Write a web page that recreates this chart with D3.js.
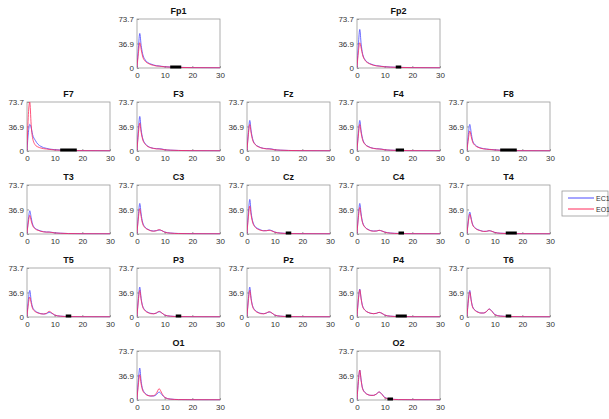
<!DOCTYPE html>
<html>
<head>
<meta charset="utf-8">
<script src="https://cdn.jsdelivr.net/npm/d3@7"></script>
<style>
  body { margin: 0; background: #fff; }
  svg { font-family: "Liberation Sans", Arial, sans-serif; }
  .tick text { fill: #333; }
</style>
</head>
<body>
<svg id="chart"></svg>
<script>
// frequency grid (Hz)
var freqs = [0, 0.5, 1, 1.5, 2, 3, 4, 5, 6, 7, 8, 9, 10, 12, 15, 20, 30];

var channels = ['Fp1','Fp2','F7','F3','Fz','F4','F8','T3','C3','Cz','C4','T4','T5','P3','Pz','P4','T6','O1','O2'];
var gridRow  = [0,0,1,1,1,1,1,2,2,2,2,2,3,3,3,3,3,4,4];
var gridCol  = [1,3,0,1,2,3,4,0,1,2,3,4,0,1,2,3,4,1,3];

// EC1 (eyes closed) spectra
var ec1 = [
  [1,30,52,34,22,12,8,6,4.5,3.5,3,2.5,2,1.5,1,0.6,0.3],
  [1,35,58,36,22,12,8,6,4.5,3.5,3,2.5,2,1.5,1,0.6,0.3],
  [1,28,40,35,25,16,10,7,5,4,3,2.5,2,1.5,1,0.6,0.3],
  [1,32,52,32,20,11,7,5,4,3.5,3.5,3,2,1.3,0.8,0.5,0.3],
  [1,28,46,30,19,10,7,5,4,3.5,3.5,3,2,1.3,0.8,0.5,0.3],
  [1,28,46,30,19,10,7,5,4,3.5,3.2,2.8,2,1.3,0.8,0.5,0.3],
  [1,25,40,28,16,9,6,4.5,3.5,3,2.5,2.2,1.8,1.2,0.8,0.5,0.3],
  [1,22,35,25,15,8.5,6,4.5,3.5,3,3,2.5,1.8,1.2,0.7,0.4,0.3],
  [1,28,46,30,18,10,7,5,4.5,5,6,5,3,1.5,0.8,0.5,0.3],
  [1,32,52,32,20,11,8,6,5,5,6,5,3,1.5,0.8,0.5,0.3],
  [1,28,46,30,18,10,7,5,4.5,4.5,5.5,4.5,3,1.5,0.8,0.5,0.3],
  [1,21,33,24,15,9,6.5,5,4,4,5,4,2.5,1.2,0.7,0.4,0.3],
  [1,26,40,25,15,9,6.5,5,4.5,5,7,5.5,3,1.3,0.7,0.4,0.3],
  [1,28,45,28,17,10,7,5.5,5,6,8,6,3,1.3,0.7,0.4,0.3],
  [1,28,45,28,17,10,7,5.5,5,6,7.5,6,3,1.3,0.7,0.4,0.3],
  [1,27,42,28,17,10,7,5.5,5,5.5,7,5.5,3,1.3,0.7,0.4,0.3],
  [1,26,40,26,16,10,7.5,6,6,8,12,9,4,1.5,0.8,0.4,0.3],
  [1,30,48,28,17,10,7,6,6,8,12,8,4,1.5,0.7,0.4,0.3],
  [1,28,45,30,18,11,8,7,7,9,12,9,4,1.5,0.7,0.4,0.3]
];

// EO1 (eyes open) spectra
var eo1 = [
  [1,22,38,28,18,10,7,5,4,3,2.8,2.2,1.8,1.3,0.9,0.5,0.3],
  [1,24,38,30,20,11,7.5,5.5,4,3.2,2.8,2.2,1.8,1.3,0.9,0.5,0.3],
  [1,55,73.7,40,20,9,6,4.5,3.5,3,2.5,2,1.6,1.2,0.8,0.5,0.3],
  [1,26,42,28,18,10,6.5,4.8,3.8,3.2,3,2.5,1.8,1.2,0.8,0.5,0.3],
  [1,25,40,27,17,9.5,6.5,4.8,3.8,3.2,3,2.5,1.8,1.2,0.8,0.5,0.3],
  [1,24,40,27,17,9.5,6.5,4.8,3.8,3.2,3,2.5,1.8,1.2,0.8,0.5,0.3],
  [1,18,30,22,14,8,5.5,4,3.2,2.7,2.3,2,1.6,1.1,0.7,0.4,0.3],
  [1,18,28,20,13,7.5,5.5,4,3.2,2.8,2.8,2.3,1.6,1.1,0.7,0.4,0.3],
  [1,24,38,26,16,9,6.5,4.8,4.2,5,6.5,5,2.8,1.3,0.7,0.4,0.3],
  [1,26,42,28,18,10,7,5.5,4.8,5,5.5,4.5,2.8,1.3,0.7,0.4,0.3],
  [1,25,40,27,17,9.5,6.5,4.8,4.2,4.5,5.5,4.5,2.8,1.3,0.7,0.4,0.3],
  [1,19,30,22,14,8.5,6,4.8,3.8,4,5,4,2.3,1.1,0.6,0.4,0.3],
  [1,20,30,21,13,8,6,4.8,4.5,5.5,8.5,6,3,1.2,0.6,0.4,0.3],
  [1,25,40,26,16,9,6.5,5,4.8,6,8.5,6,3,1.2,0.6,0.4,0.3],
  [1,25,40,26,16,9,6.5,5,4.8,6,8,6,3,1.2,0.6,0.4,0.3],
  [1,26,41,27,16,9.5,7,5.5,5,5.5,7,5.5,3,1.2,0.6,0.4,0.3],
  [1,25,38,25,15,9.5,7,6,6,8,12,8.5,3.5,1.3,0.7,0.4,0.3],
  [1,24,38,24,15,9,6.5,6,6.5,10,17,10,4,1.3,0.6,0.4,0.3],
  [1,28,45,29,17,10.5,8,7,7,9,12,8.5,3.5,1.3,0.6,0.4,0.3]
];

// significant frequency ranges (black bar on x axis), null = none
var sigBands = [
  [12,16],[14,16],[12,18],null,null,[14,17],[12,18],
  null,null,[14,16],[15,17],[14,18],
  [14,16],[14,16],[14,16],[14,18],[14,16],
  null,[11,13]
];

var yTicks = [0, 36.9, 73.7];
var xTicks = [0, 10, 20, 30];
var seriesNames = ['EC1', 'EO1'];
var seriesColors = ['#4a4aff', '#ff2a5a'];

var width = 609, height = 419;
var colX = 27, colStep = 110, rowY = 19, rowStep = 83;
var pw = 83, ph = 49;

var svg = d3.select('#chart').attr('width', width).attr('height', height);

var x = d3.scaleLinear().domain([0, 30]).range([0, pw]);
var y = d3.scaleLinear().domain([0, 73.7]).range([ph, 0]);

var line = d3.line()
  .x(function(d){ return x(d[0]); })
  .y(function(d){ return y(d[1]); })
  .curve(d3.curveMonotoneX);

channels.forEach(function(ch, i){
  var g = svg.append('g')
    .attr('transform', 'translate(' + (colX + gridCol[i] * colStep) + ',' + (rowY + gridRow[i] * rowStep) + ')');

  g.append('clipPath').attr('id', 'clip' + i)
    .append('rect').attr('width', pw).attr('height', ph + 1).attr('y', -0.5);

  // box
  g.append('rect')
    .attr('width', pw).attr('height', ph)
    .attr('fill', '#fff').attr('stroke', '#9a9a9a').attr('stroke-width', 0.8);

  var xa = g.append('g').attr('class', 'xaxis').attr('transform', 'translate(0,' + ph + ')')
    .call(d3.axisBottom(x).tickValues(xTicks).tickFormat(d3.format('d')).tickSizeInner(-2).tickSizeOuter(0).tickPadding(4));
  var ya = g.append('g').attr('class', 'yaxis')
    .call(d3.axisLeft(y).tickValues(yTicks).tickFormat(function(d){ return d === 0 ? '0' : d3.format('.1f')(d); }).tickSizeInner(-2).tickSizeOuter(0).tickPadding(3));
  [xa, ya].forEach(function(a){
    a.select('.domain').remove();
    a.selectAll('line').attr('stroke', '#9a9a9a');
    a.selectAll('text').attr('font-size', 8).attr('fill', '#333');
  });

  var plot = g.append('g').attr('clip-path', 'url(#clip' + i + ')');
  [ec1[i], eo1[i]].forEach(function(vals, k){
    var pts = freqs.map(function(f, j){ return [f, vals[j]]; });
    plot.append('path')
      .datum(pts)
      .attr('d', line)
      .attr('fill', 'none')
      .attr('stroke', seriesColors[k])
      .attr('stroke-opacity', 0.8)
      .attr('stroke-width', 1);
  });

  if (sigBands[i]) {
    g.append('line')
      .attr('x1', x(sigBands[i][0])).attr('x2', x(sigBands[i][1]))
      .attr('y1', y(0) - 1).attr('y2', y(0) - 1)
      .attr('stroke', '#000').attr('stroke-width', 3);
  }

  g.append('text')
    .attr('x', pw / 2).attr('y', -5)
    .attr('text-anchor', 'middle')
    .attr('font-size', 9).attr('font-weight', 'bold').attr('fill', '#111')
    .text(ch);
});

// legend
var lg = svg.append('g').attr('transform', 'translate(562,191)');
lg.append('rect').attr('width', 46).attr('height', 25)
  .attr('fill', '#fff').attr('stroke', '#9a9a9a').attr('stroke-width', 0.8);
seriesNames.forEach(function(n, k){
  var ly = 7 + k * 11;
  lg.append('line').attr('x1', 6).attr('x2', 32).attr('y1', ly).attr('y2', ly)
    .attr('stroke', seriesColors[k]).attr('stroke-width', 1);
  lg.append('text').attr('x', 34).attr('y', ly + 2.5)
    .attr('font-size', 7).attr('fill', '#333').text(n);
});
</script>
</body>
</html>
